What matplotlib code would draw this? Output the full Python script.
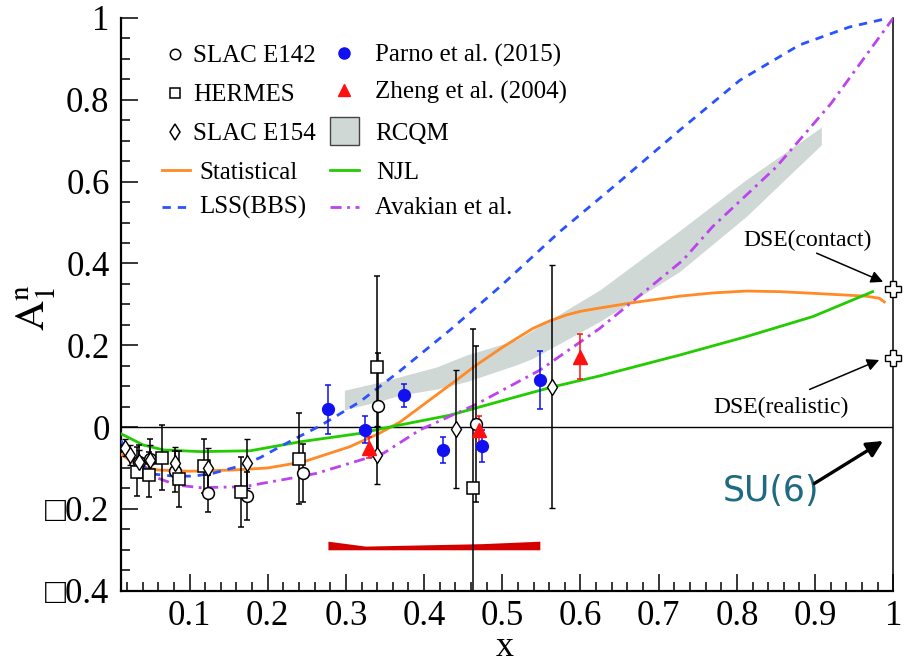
import numpy as np
import matplotlib.pyplot as plt
from matplotlib.lines import Line2D
from matplotlib.patches import Rectangle

plt.rcParams['font.family'] = ['Liberation Serif', 'DejaVu Serif']
plt.rcParams['mathtext.fontset'] = 'stix'

# ---- data ----
# SLAC E142
e142_x = [0.035, 0.050, 0.081, 0.124, 0.173, 0.245, 0.341, 0.466]
e142_y = [-0.085, -0.079, -0.108, -0.162, -0.169, -0.113, 0.052, 0.007]
e142_err = [0.040, 0.050, 0.050, 0.045, 0.058, 0.071, 0.130, 0.190]

# HERMES
herm_x = [0.033, 0.048, 0.065, 0.087, 0.118, 0.166, 0.240, 0.340, 0.462]
herm_y = [-0.109, -0.117, -0.075, -0.127, -0.095, -0.158, -0.077, 0.146, -0.150]
herm_err = [0.060, 0.055, 0.080, 0.068, 0.065, 0.086, 0.112, 0.223, 0.390]

# SLAC E154
e154_x = [0.017, 0.024, 0.035, 0.049, 0.081, 0.123, 0.173, 0.340, 0.441, 0.564]
e154_y = [-0.050, -0.068, -0.085, -0.080, -0.089, -0.100, -0.089, -0.068, -0.005, 0.099]
e154_err = [0.020, 0.025, 0.030, 0.035, 0.040, 0.050, 0.060, 0.070, 0.144, 0.296]

# Parno et al. (2015), with systematic band
parno_x = [0.277, 0.325, 0.374, 0.424, 0.474, 0.548]
parno_y = [0.043, -0.006, 0.078, -0.056, -0.046, 0.115]
parno_err = [0.060, 0.034, 0.028, 0.031, 0.040, 0.072]
parno_sys = [0.021, 0.009, 0.011, 0.013, 0.015, 0.021]

# Zheng et al. (2004)
zheng_x = [0.33, 0.47, 0.60]
zheng_y = [-0.050, -0.007, 0.172]
zheng_err = [0.025, 0.033, 0.055]

# model curves
stat_x = [0.012, 0.033, 0.06, 0.10, 0.156, 0.20, 0.2456, 0.305, 0.343, 0.369, 0.407,
          0.4415, 0.467, 0.501, 0.539, 0.56, 0.582, 0.60, 0.6245, 0.67, 0.727, 0.77,
          0.812, 0.855, 0.897, 0.965, 0.982, 0.9885]
stat_y = [-0.066, -0.094, -0.105, -0.108, -0.105, -0.100, -0.085, -0.048, -0.015, 0.012,
          0.066, 0.115, 0.152, 0.196, 0.241, 0.259, 0.274, 0.283, 0.291, 0.305, 0.320,
          0.328, 0.3325, 0.331, 0.327, 0.320, 0.315, 0.306]

njl_x = [0.012, 0.041, 0.067, 0.114, 0.1775, 0.2414, 0.318, 0.348, 0.369, 0.433, 0.518,
         0.565, 0.6245, 0.7267, 0.812, 0.897, 0.9736]
njl_y = [-0.016, -0.044, -0.056, -0.060, -0.058, -0.036, -0.0155, -0.003, 0.005, 0.029,
         0.074, 0.0985, 0.125, 0.176, 0.221, 0.270, 0.331]

lss_x = [0.012, 0.03, 0.054, 0.08, 0.105, 0.13, 0.1648, 0.19, 0.2158, 0.2414, 0.267,
         0.318, 0.369, 0.433, 0.497, 0.5734, 0.65, 0.727, 0.804, 0.88, 0.944, 0.99]
lss_y = [-0.033, -0.080, -0.115, -0.120, -0.120, -0.113, -0.095, -0.075, -0.048, -0.022,
         0.003, 0.062, 0.137, 0.237, 0.343, 0.4775, 0.600, 0.726, 0.848, 0.934, 0.978, 0.998]

avk_x = [0.012, 0.03, 0.054, 0.084, 0.1137, 0.169, 0.2414, 0.2627, 0.318, 0.348, 0.3946,
         0.467, 0.5479, 0.6245, 0.731, 0.769, 0.85, 0.92, 1.0]
avk_y = [-0.048, -0.090, -0.121, -0.142, -0.148, -0.146, -0.121, -0.113, -0.081, -0.064,
         -0.007, 0.056, 0.139, 0.241, 0.408, 0.490, 0.635, 0.790, 1.0]

rcqm_x = [0.298, 0.348, 0.369, 0.416, 0.454, 0.518, 0.539, 0.6245, 0.7267, 0.812, 0.908]
rcqm_lo = [0.042, 0.066, 0.078, 0.093, 0.111, 0.152, 0.168, 0.258, 0.380, 0.515, 0.690]
rcqm_hi = [0.090, 0.112, 0.123, 0.147, 0.176, 0.213, 0.237, 0.335, 0.480, 0.605, 0.733]

# DSE predictions at x = 1
dse_x = [1.0, 1.0]
dse_y = [0.337, 0.168]

xticks = [0.1, 0.2, 0.3, 0.4, 0.5, 0.6, 0.7, 0.8, 0.9, 1.0]
xtick_labels = ['0.1', '0.2', '0.3', '0.4', '0.5', '0.6', '0.7', '0.8', '0.9', '1']
yticks = [-0.4, -0.2, 0.0, 0.2, 0.4, 0.6, 0.8, 1.0]
ytick_labels = ['\u25a10.4', '\u25a10.2', '0', '0.2', '0.4', '0.6', '0.8', '1']

c_stat = '#ff8a26'
c_njl = '#22cc00'
c_lss = '#2a52ff'
c_avk = '#bb44ee'
c_rcqm = '#d0d8d6'

# ---- figure ----
fig = plt.figure(figsize=(9.09, 6.64), dpi=100)
ax = fig.add_axes([0.1328, 0.1104, 0.8499, 0.8625])

ax.fill_between(rcqm_x, rcqm_lo, rcqm_hi, color=c_rcqm, lw=0, zorder=1)
ax.fill_between(parno_x, [-0.30] * len(parno_x), np.array(parno_sys) - 0.30,
                color='#d40000', lw=0, zorder=2)

ax.axhline(0, color='k', lw=1.0, zorder=2)

ax.plot(stat_x, stat_y, color=c_stat, lw=2.0, zorder=3)
ax.plot(njl_x, njl_y, color=c_njl, lw=2.0, zorder=3)
ax.plot(lss_x, lss_y, color=c_lss, lw=2.0, ls=(0, (3, 2.5)), zorder=3)
ax.plot(avk_x, avk_y, color=c_avk, lw=2.0, ls=(0, (4, 2, 1, 2)), zorder=3)

eb = dict(capsize=2.2, elinewidth=1.1, capthick=1.1, zorder=4, ls='none')
ax.errorbar(e142_x, e142_y, yerr=e142_err, fmt='o', ms=8.5, mfc='white', mec='k',
            mew=1.1, ecolor='k', **eb)
ax.errorbar(herm_x, herm_y, yerr=herm_err, fmt='s', ms=8, mfc='white', mec='k',
            mew=1.1, ecolor='k', **eb)
ax.errorbar(e154_x, e154_y, yerr=e154_err, fmt='d', ms=8, mfc='white', mec='k',
            mew=1.0, ecolor='k', **eb)
ax.errorbar(parno_x, parno_y, yerr=parno_err, fmt='o', ms=8.5, color='#1010f0',
            ecolor='#1010f0', **eb)
ax.errorbar(zheng_x, zheng_y, yerr=zheng_err, fmt='^', ms=9.5, color='#ff1010',
            ecolor='#ff1010', **eb)

ax.plot(dse_x, dse_y, 'P', ms=11, mfc='white', mec='k', mew=1.0, clip_on=False, zorder=6)

# annotations
ax.text(0.891, 0.457, 'DSE(contact)', fontsize=17, ha='center', va='center')
ax.annotate('', xy=(0.987, 0.355), xytext=(0.902, 0.425),
            arrowprops=dict(arrowstyle='-|>', lw=1.1, color='k', mutation_scale=18,
                            shrinkA=0, shrinkB=0))
ax.text(0.856, 0.047, 'DSE(realistic)', fontsize=17, ha='center', va='center')
ax.annotate('', xy=(0.982, 0.164), xytext=(0.893, 0.092),
            arrowprops=dict(arrowstyle='-|>', lw=1.1, color='k', mutation_scale=18,
                            shrinkA=0, shrinkB=0))
ax.text(0.844, -0.157, 'SU(6)', fontsize=25, color='#1e6a82', ha='center', va='center',
        family='DejaVu Sans')
ax.annotate('', xy=(0.987, -0.034), xytext=(0.899, -0.138),
            arrowprops=dict(arrowstyle='-|>', lw=2.4, color='k', mutation_scale=24,
                            shrinkA=0, shrinkB=0))

# axes styling
ax.set_xlim(0.012, 1.0)
ax.set_ylim(-0.4, 1.0)
ax.set_xticks(xticks)
ax.set_xticklabels(xtick_labels)
ax.set_xticks(np.arange(0.02, 1.0, 0.02), minor=True)
ax.set_yticks(yticks)
ax.set_yticklabels(ytick_labels)
ax.set_yticks(np.arange(-0.35, 1.0, 0.05), minor=True)
ax.tick_params(which='both', direction='in', top=False, right=False, width=1.1,
               labelsize=25)
ax.tick_params(which='major', length=12)
ax.tick_params(which='minor', length=6.5)
ax.tick_params(axis='x', pad=7)
ax.tick_params(axis='y', pad=8)
for side in ['left', 'bottom']:
    ax.spines[side].set_linewidth(1.6)
ax.spines['right'].set_linewidth(1.1)
ax.spines['top'].set_visible(False)

fig.text(505 / 909, 1 - 663.5 / 664, 'x', fontsize=26, ha='center', va='bottom')
fig.text(36 / 909, 1 - 308 / 664, r'$\mathrm{A}_1^{\mathrm{n}}$', fontsize=30,
         rotation=90, ha='center', va='center')


# legend, two columns
def fx(px):
    return px / 909


def fy(py):
    return 1 - py / 664


rows = [62, 101, 140, 179, 214]
col1 = [('o', 'SLAC E142'), ('s', 'HERMES'), ('d', 'SLAC E154')]
for (m, lab), base in zip(col1, rows):
    fig.add_artist(Line2D([fx(175)], [fy(base - 8)], marker=m, ms=7.5 if m != 'd' else 8,
                          mfc='white', mec='k', mew=1.1, ls='none'))
    fig.text(fx(193), fy(base), lab, fontsize=18, va='baseline')
fig.add_artist(Line2D([fx(162), fx(190)], [fy(170), fy(170)], color=c_stat, lw=2.0))
fig.text(fx(199), fy(179), 'Statistical', fontsize=18, va='baseline')
fig.add_artist(Line2D([fx(162), fx(190)], [fy(206.5), fy(206.5)], color=c_lss, lw=2.0,
                      ls=(0, (3, 2.5))))
fig.text(fx(199), fy(214), 'LSS(BBS)', fontsize=18, va='baseline')

fig.add_artist(Line2D([fx(344)], [fy(53)], marker='o', ms=8, color='#1010f0', ls='none'))
fig.text(fx(375), fy(62), 'Parno et al. (2015)', fontsize=18, va='baseline')
fig.add_artist(Line2D([fx(344)], [fy(90)], marker='^', ms=9, color='#ff1010', ls='none'))
fig.text(fx(375), fy(99), 'Zheng et al. (2004)', fontsize=18, va='baseline')
fig.add_artist(Rectangle((fx(330), fy(145)), fx(359) - fx(330), fy(117) - fy(145),
                         facecolor=c_rcqm, edgecolor='#444444', lw=1.0))
fig.text(fx(375), fy(140), 'RCQM', fontsize=18, va='baseline')
fig.add_artist(Line2D([fx(330), fx(359)], [fy(170), fy(170)], color=c_njl, lw=2.0))
fig.text(fx(376), fy(179), 'NJL', fontsize=18, va='baseline')
fig.add_artist(Line2D([fx(330), fx(359)], [fy(206.5), fy(206.5)], color=c_avk, lw=2.0,
                      ls=(0, (4, 2, 1, 2))))
fig.text(fx(375), fy(214), 'Avakian et al.', fontsize=18, va='baseline')

fig.savefig('out.png', dpi=100)
